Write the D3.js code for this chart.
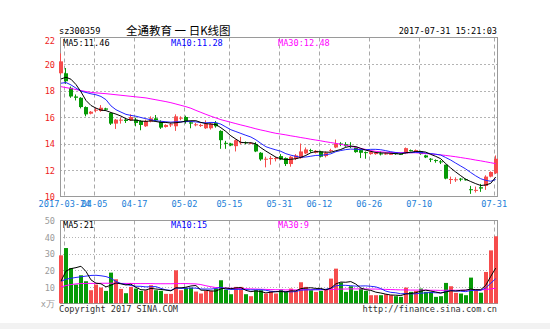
<!DOCTYPE html>
<html>
<head>
<meta charset="utf-8">
<script src="https://cdn.jsdelivr.net/npm/d3@7"></script>
<style>
  html, body { margin: 0; padding: 0; background: #fff; }
  svg { display: block; }
</style>
</head>
<body>
<svg id="chart" width="550" height="329"></svg>
<script>
// ---- Daily bars, 2017-03-23 .. 2017-07-31 ----
const dates = [
  "2017-03-23","2017-03-24","2017-03-27","2017-03-28","2017-03-29","2017-03-30","2017-03-31",
  "2017-04-05","2017-04-06","2017-04-07","2017-04-10","2017-04-11","2017-04-12","2017-04-13","2017-04-14",
  "2017-04-17","2017-04-18","2017-04-19","2017-04-20","2017-04-21","2017-04-24","2017-04-25","2017-04-26",
  "2017-04-27","2017-04-28",
  "2017-05-02","2017-05-03","2017-05-04","2017-05-05","2017-05-08","2017-05-09","2017-05-10","2017-05-11",
  "2017-05-12","2017-05-15","2017-05-16","2017-05-17","2017-05-18","2017-05-19","2017-05-22","2017-05-23",
  "2017-05-24","2017-05-25","2017-05-26","2017-05-31",
  "2017-06-01","2017-06-02","2017-06-05","2017-06-06","2017-06-07","2017-06-08","2017-06-09","2017-06-12",
  "2017-06-13","2017-06-14","2017-06-15","2017-06-16","2017-06-19","2017-06-20","2017-06-21","2017-06-22",
  "2017-06-23","2017-06-26","2017-06-27","2017-06-28","2017-06-29","2017-06-30",
  "2017-07-03","2017-07-04","2017-07-05","2017-07-06","2017-07-07","2017-07-10","2017-07-11","2017-07-12",
  "2017-07-13","2017-07-14","2017-07-17","2017-07-18","2017-07-19","2017-07-20","2017-07-21","2017-07-24",
  "2017-07-25","2017-07-26","2017-07-27","2017-07-28","2017-07-31"
];

const open = [
  19.3,19.3,18.2,17.55,17.45,16.75,16.25,16.5,16.45,16.65,16.3,15.5,15.75,15.8,15.75,15.8,15.7,15.3,15.65,15.9,
  15.65,15.25,15.4,15.3,15.9,16.0,15.6,15.4,15.35,15.15,15.15,15.55,14.95,14.05,14.0,13.8,14.05,14.1,14.0,13.95,
  13.3,12.8,12.85,12.85,13.05,12.9,12.45,12.85,12.9,13.25,13.5,13.3,13.4,13.05,13.45,13.7,14.0,13.95,13.8,13.7,
  13.5,13.35,13.2,13.2,13.25,13.2,13.2,13.3,13.22,13.25,13.5,13.35,13.4,13.1,12.85,12.75,12.65,12.4,11.25,11.25,
  11.35,11.3,10.55,10.45,10.7,10.8,11.5,11.75
];
const high = [
  20.8,19.7,18.3,17.7,17.5,16.8,16.45,16.7,16.9,16.7,16.35,15.85,15.95,15.9,16.2,15.95,15.75,15.8,16.05,16.15,
  15.75,15.45,15.55,16.2,16.05,16.1,15.7,15.55,15.5,15.75,15.6,15.7,15.0,14.2,14.05,14.3,14.5,14.15,14.1,14.1,
  13.35,13.0,13.05,13.0,13.2,12.95,13.05,13.2,14.0,13.7,13.6,13.5,13.45,13.4,13.6,14.3,14.1,14.1,14.1,13.75,
  13.55,13.4,13.45,13.4,13.4,13.35,13.3,13.35,13.3,13.7,13.55,13.55,13.45,13.15,12.9,12.8,12.75,12.4,11.5,11.45,
  11.4,11.35,10.8,10.75,10.95,11.6,11.9,13.1
];
const low = [
  19.2,18.5,17.45,17.25,16.65,16.05,16.2,16.35,16.4,16.5,15.4,15.1,15.5,15.55,15.7,15.3,15.0,15.25,15.6,15.7,
  15.1,15.2,15.25,14.95,15.75,15.5,15.15,15.3,15.25,15.1,15.05,15.2,13.6,13.6,13.8,13.4,13.95,13.95,13.95,13.35,
  12.7,12.2,12.4,12.65,12.75,12.3,12.25,12.75,12.85,13.2,13.3,13.25,12.95,12.95,13.35,13.65,13.8,13.75,13.65,13.3,
  12.9,12.85,13.15,13.15,13.1,13.15,13.15,13.15,13.15,13.2,13.4,13.3,13.15,12.9,12.6,12.55,12.45,11.3,10.95,11.1,
  11.15,11.2,10.2,10.3,10.35,10.5,11.45,11.7
];
const close = [
  20.2,18.7,17.55,17.45,16.75,16.2,16.4,16.55,16.7,16.55,15.5,15.8,15.8,15.7,16.0,15.55,15.4,15.7,15.9,15.75,
  15.2,15.4,15.45,16.05,15.95,15.65,15.5,15.45,15.4,15.5,15.5,15.3,14.25,14.0,13.85,14.25,14.1,14.05,14.05,13.4,
  12.8,12.85,12.9,12.9,12.8,12.45,13.0,13.1,13.4,13.55,13.45,13.45,13.0,13.3,13.5,14.0,13.95,13.8,13.75,13.35,
  13.3,13.3,13.35,13.3,13.2,13.25,13.22,13.2,13.2,13.65,13.45,13.5,13.2,12.95,12.8,12.7,12.6,11.35,11.32,11.3,
  11.3,11.25,10.5,10.5,10.6,11.5,11.85,12.85
];

// Price moving averages
const ma5 = [
  18.87,19.0,18.85,18.45,17.9,17.25,16.87,16.67,16.52,16.48,16.34,16.22,16.07,15.87,15.76,15.77,15.69,15.67,15.71,15.66,
  15.59,15.59,15.54,15.57,15.61,15.7,15.72,15.72,15.59,15.5,15.47,15.43,15.19,14.91,14.58,14.33,14.09,14.05,14.06,13.97,
  13.68,13.43,13.2,12.97,12.85,12.78,12.81,12.85,12.95,13.1,13.3,13.39,13.37,13.35,13.34,13.45,13.55,13.71,13.8,13.77,
  13.63,13.5,13.41,13.32,13.29,13.28,13.26,13.23,13.21,13.3,13.34,13.4,13.4,13.35,13.18,13.03,12.85,12.48,12.15,11.85,
  11.57,11.3,11.13,10.97,10.83,10.87,10.99,11.46
];
const ma10 = [
  18.55,18.6,18.42,18.18,17.95,17.85,17.75,17.68,17.55,17.31,16.84,16.55,16.37,16.2,16.12,16.06,15.96,15.87,15.79,15.71,
  15.68,15.64,15.61,15.64,15.64,15.65,15.66,15.63,15.58,15.56,15.59,15.58,15.46,15.25,15.04,14.9,14.76,14.62,14.49,14.28,
  14.01,13.76,13.63,13.52,13.41,13.23,13.12,13.03,12.96,12.98,13.04,13.1,13.11,13.15,13.22,13.38,13.47,13.54,13.58,13.56,
  13.54,13.53,13.56,13.56,13.53,13.46,13.38,13.32,13.27,13.3,13.31,13.33,13.32,13.28,13.24,13.19,13.13,12.94,12.75,12.52,
  12.3,12.08,11.81,11.56,11.34,11.22,11.15,11.28
];
const ma30 = [
  18.29,18.22,18.15,18.07,18.0,17.92,17.86,17.82,17.79,17.76,17.72,17.68,17.64,17.6,17.56,17.52,17.48,17.44,17.37,17.3,
  17.23,17.16,17.08,16.98,16.88,16.78,16.66,16.5,16.35,16.2,16.06,15.93,15.8,15.7,15.6,15.5,15.4,15.31,15.21,15.11,
  15.02,14.94,14.85,14.77,14.71,14.65,14.58,14.52,14.45,14.39,14.32,14.26,14.2,14.13,14.07,14.01,13.94,13.86,13.79,13.71,
  13.63,13.55,13.47,13.41,13.37,13.34,13.32,13.31,13.31,13.31,13.3,13.3,13.27,13.24,13.21,13.18,13.14,13.1,13.05,13.0,
  12.94,12.88,12.82,12.75,12.69,12.62,12.55,12.48
];

// Volume (unit: 10k shares) and its moving averages
const volume = [
  29,33.4,21.4,11.4,17,13.4,8,11.4,9.6,7.6,18.6,14.6,8.8,6.2,10,9,7.6,8,11,8,
  7.6,5.8,5.8,20,8,9.5,9.5,7.2,6,7.6,7.6,9,14,8.4,5.6,10,10,5.6,4.4,8,
  8,6,7.6,6,8.4,7,9,7.6,12.8,10,8,7,7.6,8.4,15,21,12.6,7,10.4,7.6,
  9,7.6,5,5,5,5.6,5,4.4,4,9.6,7,7.6,9,7,7,4,4.4,12.4,10.4,6.4,
  6,5,15.6,8.5,6.5,19,32,40.5
];
const volMa5 = [
  13.5,19.5,21,21.6,22.44,19.32,14.24,12.24,11.88,10,11.04,12.36,11.84,11.16,11.64,9.72,8.32,8.16,9.12,8.72,
  8.44,8.08,7.64,9.44,9.44,9.82,10.56,10.84,8.04,7.96,7.58,7.48,8.84,9.32,8.92,9.4,9.6,7.92,7.12,7.6,
  7.2,6.4,6.8,7.12,7.2,7,7.6,7.6,8.96,9.28,9.48,9.08,9.08,8.2,9.2,11.8,12.92,12.8,13.2,11.72,
  9.32,8.32,7.92,6.84,6.32,5.64,5.12,5,4.8,5.72,6,6.52,7.44,8.04,7.52,6.92,6.28,6.96,7.64,7.52,
  7.92,8.04,8.68,8.3,8.32,10.92,16.32,21.3
];
const volMa10 = [
  13.4,14.6,15.2,15.7,16.1,16.5,16.9,17,16.7,16.22,15.18,13.3,12.04,11.52,10.82,10.38,10.34,10,10.14,10.18,
  9.08,8.2,7.9,9.28,9.08,9.13,9.32,9.24,8.74,8.7,8.7,9.02,9.84,8.68,8.44,8.49,8.54,8.38,8.22,8.26,
  8.3,8,7.36,7.12,7.4,7.1,7,7.2,8.04,8.24,8.24,8.34,8.34,8.58,9.24,10.64,11,10.94,10.7,10.46,
  10.56,10.62,10.36,10.02,9.02,7.48,6.72,6.46,5.82,6.02,5.82,5.82,6.22,6.42,6.62,6.46,6.4,7.2,7.84,7.52,
  7.42,7.16,7.82,7.97,7.92,9.42,12.18,14.99
];
const volMa30 = [
  10,10.8,11.4,11.8,12,12.1,12.1,12.1,12.2,12.2,12.2,12.2,12.1,12.1,12.1,12.0,12.0,12.0,12.0,11.9,
  11.9,11.9,11.9,12.0,12.0,12.0,11.9,11.8,11.4,10.7,10.1,9.6,9.4,9.3,9.2,9.1,9.0,8.9,8.8,8.7,
  8.6,8.5,8.4,8.3,8.3,8.2,8.2,8.2,8.3,8.3,8.3,8.3,8.3,8.3,8.4,8.6,8.7,8.7,8.8,8.8,
  8.8,8.8,8.7,8.7,8.6,8.5,8.4,8.3,8.2,8.2,8.1,8.1,8.1,8.1,8.0,8.0,7.9,8.0,8.0,8.0,
  8.0,8.0,8.2,8.2,8.2,8.4,8.8,9.2
];

// Axis ticks
const priceTicks = [22, 20, 18, 16, 14, 12, 10];
const priceGrid = [20, 18, 16, 14, 12];
const volumeTicks = [50, 40, 30, 20, 10];
const volumeGrid = [40, 30, 20, 10];
const dateTicks = ["2017-03-24","2017-04-05","2017-04-17","2017-05-02","2017-05-15",
                   "2017-05-31","2017-06-12","2017-06-26","2017-07-10","2017-07-31"];
const dateTickLabels = ["2017-03-24","04-05","04-17","05-02","05-15",
                        "05-31","06-12","06-26","07-10","07-31"];

// Header / legend texts
const symbol = "sz300359";
const title = "全通教育 一 日K线图";
const stamp = "2017-07-31 15:21:03";
const priceLegend = [["MA5:11.46", "#000"], ["MA10:11.28", "#0000ff"], ["MA30:12.48", "#ff00ff"]];
const volumeLegend = [["MA5:21", "#000"], ["MA10:15", "#0000ff"], ["MA30:9", "#ff00ff"]];

// ---- Drawing ----
const MONO = "'DejaVu Sans Mono', 'Liberation Mono', monospace";
const CJK = "'Noto Sans CJK SC', 'Noto Sans', sans-serif";
const RED = "#f64c4c", GREEN = "#069a06";
const FRAME = "#9a9a9a";

const svg = d3.select("#chart");
const L = 60, R = 497;

const x = d3.scaleBand().domain(dates).range([59, 497.7]).paddingInner(0.2).paddingOuter(0);
const yP = d3.scaleLinear().domain([10, 22]).range([196.5, 37.5]);
const yV = d3.scaleLinear().domain([0, 50]).range([303.5, 220.5]);
const px = d => Math.round(x(d));
const bw = 4;
const up = i => close[i] >= open[i];

svg.append("rect").attr("width", 550).attr("height", 329).attr("fill", "#fff");

// clip paths
const defs = svg.append("defs");
defs.append("clipPath").attr("id", "clipP").append("rect")
  .attr("x", 58).attr("y", yP(22)).attr("width", R - 58 + 1).attr("height", yP(10) - yP(22));
defs.append("clipPath").attr("id", "clipV").append("rect")
  .attr("x", 58).attr("y", yV(50)).attr("width", R - 58 + 1).attr("height", yV(0) - yV(50));

function panelGrid(yScale, hVals, top, bottom, hDash) {
  const g = svg.append("g");
  g.selectAll("line.h").data(hVals).join("line")
    .attr("x1", L).attr("x2", R)
    .attr("y1", v => Math.round(yScale(v)) + 0.5).attr("y2", v => Math.round(yScale(v)) + 0.5)
    .attr("stroke", "#b4b4b4").attr("stroke-dasharray", hDash);
  g.selectAll("line.v").data(dateTicks).join("line")
    .attr("x1", d => px(d) + 0.5).attr("x2", d => px(d) + 0.5)
    .attr("y1", top).attr("y2", bottom)
    .attr("stroke", "#a8a8a8").attr("stroke-dasharray", "4,3");
}

// price panel grid + frame
panelGrid(yP, priceGrid, yP(22), yP(10), "2,2");
svg.append("rect").attr("x", L + 0.5).attr("y", yP(22)).attr("width", R - L)
  .attr("height", yP(10) - yP(22)).attr("fill", "none").attr("stroke", FRAME);

// volume panel grid + frame
panelGrid(yV, volumeGrid, yV(50), yV(0), "1,2");
svg.append("rect").attr("x", L + 0.5).attr("y", yV(50)).attr("width", R - L)
  .attr("height", yV(0) - yV(50)).attr("fill", "none").attr("stroke", FRAME);

// candlesticks
const candles = svg.append("g").attr("clip-path", "url(#clipP)");
const idx = d3.range(dates.length);
candles.selectAll("rect.wick").data(idx).join("rect")
  .attr("x", i => px(dates[i]) + 1).attr("width", 1)
  .attr("y", i => yP(high[i])).attr("height", i => Math.max(1, yP(low[i]) - yP(high[i])))
  .attr("fill", i => up(i) ? RED : GREEN);
candles.selectAll("rect.body").data(idx).join("rect")
  .attr("x", i => px(dates[i])).attr("width", bw)
  .attr("y", i => yP(Math.max(open[i], close[i])))
  .attr("height", i => Math.max(1, Math.abs(yP(open[i]) - yP(close[i]))))
  .attr("fill", i => up(i) ? RED : GREEN);

// moving-average lines
const cx = i => x(dates[i]) + x.bandwidth() / 2;
function maLine(g, values, yScale, color) {
  g.append("path").datum(values)
    .attr("d", d3.line().x((d, i) => cx(i)).y(d => yScale(d)))
    .attr("fill", "none").attr("stroke", color).attr("stroke-width", 1);
}
maLine(candles, ma30, yP, "#ff00ff");
maLine(candles, ma10, yP, "#2323ff");
maLine(candles, ma5, yP, "#000");

// volume bars
const vols = svg.append("g").attr("clip-path", "url(#clipV)");
vols.selectAll("rect").data(idx).join("rect")
  .attr("x", i => px(dates[i])).attr("width", bw)
  .attr("y", i => yV(volume[i])).attr("height", i => yV(0) - yV(volume[i]))
  .attr("fill", i => up(i) ? RED : GREEN);
maLine(vols, volMa30, yV, "#ff00ff");
maLine(vols, volMa10, yV, "#2323ff");
maLine(vols, volMa5, yV, "#000");

// axes
const priceAxis = svg.append("g").attr("transform", "translate(55,0)")
  .call(d3.axisLeft(yP).tickValues(priceTicks).tickSize(0).tickPadding(0).tickFormat(d3.format("d")));
priceAxis.select(".domain").remove();
priceAxis.selectAll("text").attr("fill", "#ee1c1c").attr("font-family", MONO).attr("font-size", 8.6)
  .attr("dy", d => d === 22 ? "0.75em" : "0.36em");

const volAxis = svg.append("g").attr("transform", "translate(55,0)")
  .call(d3.axisLeft(yV).tickValues(volumeTicks).tickSize(0).tickPadding(0).tickFormat(d3.format("d")));
volAxis.select(".domain").remove();
volAxis.selectAll("text").attr("fill", "#9a9a9a").attr("font-family", MONO).attr("font-size", 8.6)
  .attr("dy", "0.36em");
svg.append("text").attr("x", 55).attr("y", yV(0)).attr("dy", "0.36em").attr("text-anchor", "end")
  .attr("fill", "#9a9a9a").attr("font-family", MONO).attr("font-size", 8.6).text("x万");

const dateAxis = svg.append("g").attr("transform", `translate(${-x.bandwidth() / 2 + 0.5},${yP(10) + 3})`)
  .call(d3.axisBottom(x).tickValues(dateTicks).tickSize(0).tickPadding(0)
    .tickFormat(d => dateTickLabels[dateTicks.indexOf(d)]));
dateAxis.select(".domain").remove();
dateAxis.selectAll("text").attr("fill", "#1b80d8").attr("font-family", MONO).attr("font-size", 8.6)
  .attr("dy", "0.9em");

// header
svg.append("text").attr("x", 59).attr("y", 34.3).attr("font-family", MONO).attr("font-size", 8.6)
  .attr("fill", "#000").text(symbol);
svg.append("text").attr("x", 126).attr("y", 35).attr("font-family", CJK).attr("font-size", 11.5)
  .attr("fill", "#000").text(title);
svg.append("text").attr("x", 497).attr("y", 34.3).attr("text-anchor", "end").attr("font-family", MONO)
  .attr("font-size", 8.6).attr("fill", "#000").text(stamp);

// legends
const legendX = [63, 171, 278];
priceLegend.forEach(([t, c], k) => {
  svg.append("text").attr("x", legendX[k]).attr("y", 46.3).attr("font-family", MONO)
    .attr("font-size", 8.6).attr("fill", c).text(t);
});
volumeLegend.forEach(([t, c], k) => {
  svg.append("text").attr("x", legendX[k]).attr("y", 228).attr("font-family", MONO)
    .attr("font-size", 8.6).attr("fill", c).text(t);
});

// footer
svg.append("text").attr("x", 59).attr("y", 311.5).attr("font-family", MONO).attr("font-size", 8.6)
  .attr("fill", "#333").text("Copyright 2017 SINA.COM");
svg.append("text").attr("x", 497).attr("y", 311.5).attr("text-anchor", "end").attr("font-family", MONO)
  .attr("font-size", 8.6).attr("fill", "#333").text("http://finance.sina.com.cn");
svg.append("rect").attr("x", 0).attr("y", 323).attr("width", 550).attr("height", 6).attr("fill", "#f2f2f2");
</script>
</body>
</html>
